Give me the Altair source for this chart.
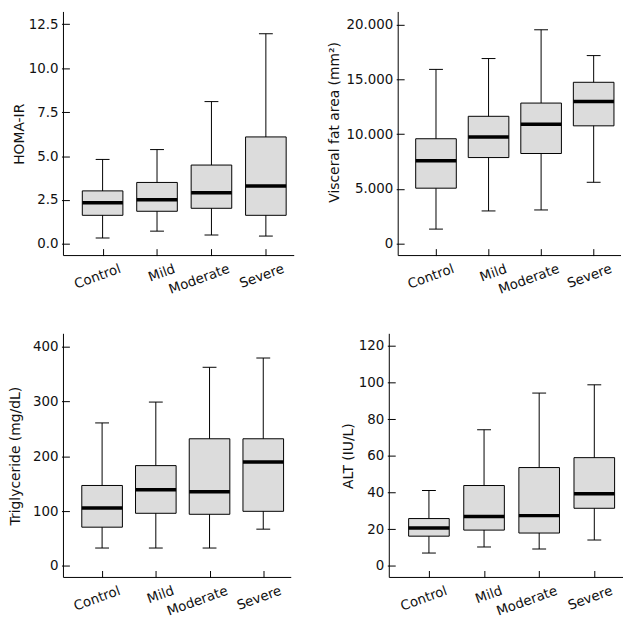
import altair as alt
import pandas as pd

groups = ["Control", "Mild", "Moderate", "Severe"]

homa_low = [0.34, 0.73, 0.51, 0.45]
homa_q1 = [1.63, 1.86, 2.03, 1.63]
homa_med = [2.35, 2.52, 2.91, 3.30]
homa_q3 = [3.02, 3.50, 4.49, 6.09]
homa_high = [4.81, 5.37, 8.10, 11.96]

vfa_low = [1330, 2990, 3080, 5610]
vfa_q1 = [5070, 7870, 8240, 10770]
vfa_med = [7570, 9740, 10920, 13000]
vfa_q3 = [9590, 11640, 12850, 14750]
vfa_high = [15930, 16920, 19550, 17190]

tg_low = [32.6, 32.6, 32.6, 67]
tg_q1 = [70.6, 95.9, 94.1, 99.5]
tg_med = [105.6, 138.8, 135.1, 189.4]
tg_q3 = [146.6, 182.8, 231.7, 231.7]
tg_high = [260.6, 298.6, 362, 378.9]

alt_low = [7.0, 10.3, 9.2, 14.1]
alt_q1 = [16.2, 19.5, 17.9, 31.4]
alt_med = [20.6, 26.9, 27.4, 39.3]
alt_q3 = [25.8, 43.8, 53.6, 59.0]
alt_high = [41.1, 74.2, 94.2, 98.7]

FONT = "DejaVu Sans"
H = 246
YOFF = 6


def panel(low, q1, med, q3, high, title, domain, ticks, width, label_expr, title_dist, title_shift=0):
    df = pd.DataFrame({"group": groups, "low": low, "q1": q1, "med": med, "q3": q3, "high": high})
    xenc = alt.X(
        "group:N", sort=groups,
        scale=alt.Scale(type="point", padding=0.62, align=0.58),
        axis=alt.Axis(title=None, labelAngle=-20, labelAlign="right", labelBaseline="top",
                      offset=-7, tickSize=7, domain=False, labelPadding=6, labelOffset=15,
                      grid=False, labelLimit=300),
    )

    def yenc(field):
        ax = dict(title=title, values=ticks, offset=-YOFF, tickSize=YOFF + 2, domain=False,
                  labelPadding=3.5, grid=False,
                  titleX=-(title_dist + YOFF), titleY=H / 2 + title_shift,
                  titleBaseline="alphabetic", titleAlign="center", titleAngle=270)
        if label_expr:
            ax["labelExpr"] = label_expr
        return alt.Y(f"{field}:Q", scale=alt.Scale(domain=domain, nice=False, zero=False),
                     axis=alt.Axis(**ax))

    base = alt.Chart(df)
    whisk = base.mark_rule(color="black", strokeWidth=1).encode(x=xenc, y=yenc("low"), y2="high:Q")
    box = base.mark_bar(size=41, fill="#dcdcdc", stroke="black", strokeWidth=1, opacity=1).encode(
        x=xenc, y=yenc("q1"), y2="q3:Q")
    medm = base.mark_tick(size=41, thickness=3.5, color="black", opacity=1).encode(
        x=xenc, y=yenc("med"))
    capl = base.mark_tick(size=14, thickness=1, color="black", opacity=1).encode(
        x=xenc, y=yenc("low"))
    caph = base.mark_tick(size=14, thickness=1, color="black", opacity=1).encode(
        x=xenc, y=yenc("high"))
    one = alt.Chart(pd.DataFrame({"a": [0]}))
    left = one.mark_rule(color="black", strokeWidth=1).encode(
        x=alt.value(0), y=alt.value(0), y2=alt.value(H))
    bottom = one.mark_rule(color="black", strokeWidth=1).encode(
        x=alt.value(0), x2=alt.value(width), y=alt.value(H))
    return alt.layer(whisk, box, medm, capl, caph, left, bottom).properties(width=width, height=H)


p1 = panel(homa_low, homa_q1, homa_med, homa_q3, homa_high, "HOMA-IR",
           [-0.66, 13.2], [0, 2.5, 5, 7.5, 10, 12.5], 233, "format(datum.value, '.1f')", 40.6)
p2 = panel(vfa_low, vfa_q1, vfa_med, vfa_q3, vfa_high, "Visceral fat area (mm²)",
           [-1090, 21180], [0, 5000, 10000, 15000, 20000], 225,
           "datum.value == 0 ? '0' : replace(format(datum.value, ','), ',', '.')", 60, -12)
p3 = panel(tg_low, tg_q1, tg_med, tg_q3, tg_high, "Triglyceride (mg/dL)",
           [-21, 423], [0, 100, 200, 300, 400], 230, None, 44.3)
p4 = panel(alt_low, alt_q1, alt_med, alt_q3, alt_high, "ALT (IU/L)",
           [-6.3, 126.5], [0, 20, 40, 60, 80, 100, 120], 236, None, 37.4)

chart = alt.vconcat(
    alt.hconcat(p1, p2, spacing=33),
    alt.hconcat(p3, p4, spacing=49),
    spacing=37,
    padding={"left": 0, "top": 0, "right": 0, "bottom": 0},
).configure_view(stroke=None).configure_axis(
    labelFont=FONT, titleFont=FONT, labelFontSize=13.5, titleFontSize=14,
    labelColor="#111111", titleColor="#111111", tickColor="black", titleFontWeight="normal",
)

chart.save("out.html", embed_options={"renderer": "svg", "actions": False})
